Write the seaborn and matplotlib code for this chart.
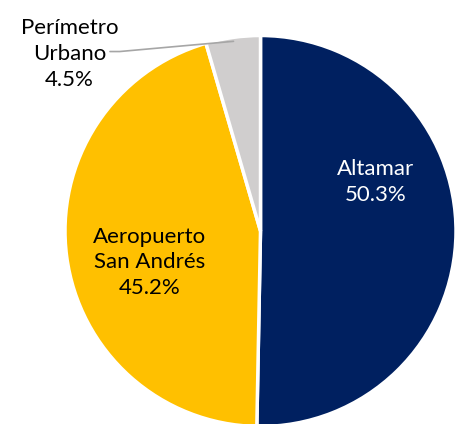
import numpy as np
import matplotlib
matplotlib.use("Agg")
import matplotlib.pyplot as plt
import seaborn as sns

categories = ["Altamar", "Aeropuerto\nSan Andrés", "Perímetro\nUrbano"]
values = [50.3, 45.2, 4.5]
colors = ["#002060", "#FFC000", "#D0CECE"]
text_colors = ["white", "black", "black"]

sns.set_theme(style="white")
plt.rcParams["font.family"] = ["Lato", "DejaVu Sans"]

W, H = 463, 424
fig = plt.figure(figsize=(W / 100, H / 100), dpi=100)
cx, cy, r = 260.5, 231, 195.5
ax = fig.add_axes([(cx - r) / W, (H - cy - r) / H, 2 * r / W, 2 * r / H])

wedges, _ = ax.pie(values, colors=colors, startangle=90, counterclock=False,
                   wedgeprops=dict(edgecolor="white", linewidth=2.5))
ax.set_xlim(-1, 1)
ax.set_ylim(-1, 1)
ax.set_aspect("equal")
ax.axis("off")

fs = 16
ls = 1.36
# Altamar
ax.text(0.587, 0.251, f"{categories[0]}\n{values[0]:.1f}%", ha="center", va="center",
        color=text_colors[0], fontsize=fs, linespacing=ls)
# Aeropuerto
ax.text(-0.567, -0.16, f"{categories[1]}\n{values[1]:.1f}%", ha="center", va="center",
        color=text_colors[1], fontsize=fs, linespacing=ls)
# Perímetro Urbano with leader line
w = wedges[2]
mid = np.deg2rad((w.theta1 + w.theta2) / 2)
px, py = np.cos(mid), np.sin(mid)
ax.text(-0.977, 0.905, f"{categories[2]}\n{values[2]:.1f}%", ha="center", va="center",
        color=text_colors[2], fontsize=fs, linespacing=ls, clip_on=False)
ax.plot([-0.77, -0.72, px * 0.98], [0.918, 0.918, py * 0.98], color="#A6A6A6",
        lw=1.2, clip_on=False)

fig.savefig("out.png", dpi=100)
